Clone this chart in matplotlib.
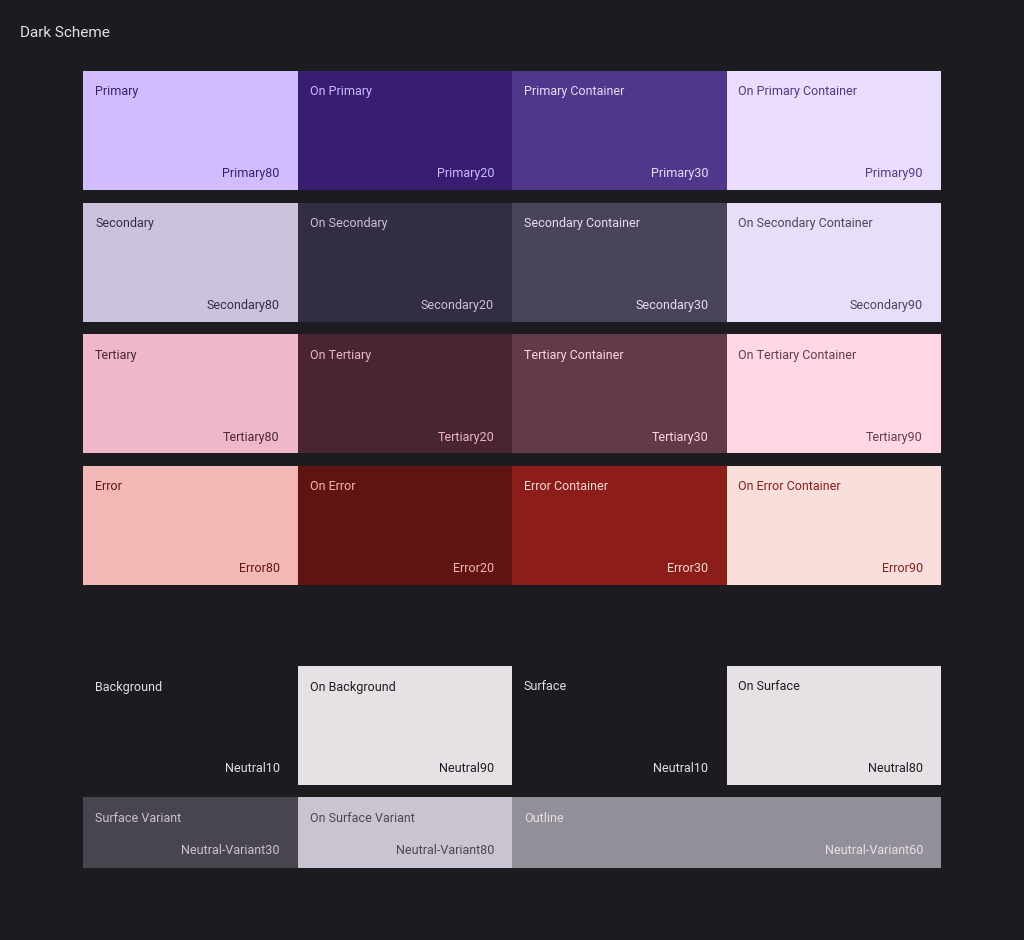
import matplotlib.pyplot as plt
from matplotlib.patches import Rectangle

plt.rcParams['font.family'] = 'Roboto'

BG = '#1c1b1f'

# ---- swatch data (row, col, span, role, tone, fill, text colour) ----
roles = ['Primary', 'On Primary', 'Primary Container', 'On Primary Container',
         'Secondary', 'On Secondary', 'Secondary Container', 'On Secondary Container',
         'Tertiary', 'On Tertiary', 'Tertiary Container', 'On Tertiary Container',
         'Error', 'On Error', 'Error Container', 'On Error Container',
         'Background', 'On Background', 'Surface', 'On Surface',
         'Surface Variant', 'On Surface Variant', 'Outline']
tones = ['Primary80', 'Primary20', 'Primary30', 'Primary90',
         'Secondary80', 'Secondary20', 'Secondary30', 'Secondary90',
         'Tertiary80', 'Tertiary20', 'Tertiary30', 'Tertiary90',
         'Error80', 'Error20', 'Error30', 'Error90',
         'Neutral10', 'Neutral90', 'Neutral10', 'Neutral80',
         'Neutral-Variant30', 'Neutral-Variant80', 'Neutral-Variant60']
fills = ['#d0bcff', '#381e72', '#4f378b', '#eaddff',
         '#ccc2dc', '#332d41', '#4a4458', '#e8def8',
         '#efb8c8', '#492532', '#633b48', '#ffd8e4',
         '#f2b8b5', '#601410', '#8c1d18', '#f9dedc',
         '#1c1b1f', '#e6e1e5', '#1c1b1f', '#e6e1e5',
         '#49454f', '#cac4d0', '#938f99']
text_colors = ['#381e72', '#d0bcff', '#eaddff', '#4f378b',
               '#332d41', '#ccc2dc', '#e8def8', '#4a4458',
               '#492532', '#efb8c8', '#ffd8e4', '#633b48',
               '#601410', '#f2b8b5', '#f9dedc', '#8c1d18',
               '#e6e1e5', '#1c1b1f', '#e6e1e5', '#1c1b1f',
               '#cac4d0', '#49454f', '#e6e1e5']
rows = [0]*4 + [1]*4 + [2]*4 + [3]*4 + [4]*4 + [5]*3
cols = [0, 1, 2, 3]*5 + [0, 1, 2]
spans = [1]*22 + [2]

# ---- layout (pixels) ----
X0, COLW = 83, 214.5
row_top = [71, 203, 334, 466, 666, 797]
row_h = [119, 119, 119, 119, 119, 71]

fig = plt.figure(figsize=(10.24, 9.40), dpi=100, facecolor=BG)
ax = fig.add_axes([0, 0, 1, 1])
ax.set_xlim(0, 1024)
ax.set_ylim(940, 0)
ax.axis('off')
ax.set_facecolor(BG)

ax.text(20, 33, 'Dark Scheme', color='#e6e1e5', fontsize=11, va='center', ha='left')

for role, tone, fc, tc, r, c, s in zip(roles, tones, fills, text_colors, rows, cols, spans):
    x = X0 + c * COLW
    y = row_top[r]
    w = COLW * s
    h = row_h[r]
    ax.add_patch(Rectangle((x, y), w, h, facecolor=fc, edgecolor='none'))
    ax.text(x + 12, y + 21, role, color=tc, fontsize=9, va='center', ha='left')
    bottom = y + h - 16 if r < 5 else y + h - 18
    ax.text(x + w - 18, bottom, tone, color=tc, fontsize=9, va='center', ha='right')

fig.savefig('out.png', dpi=100, facecolor=BG)
